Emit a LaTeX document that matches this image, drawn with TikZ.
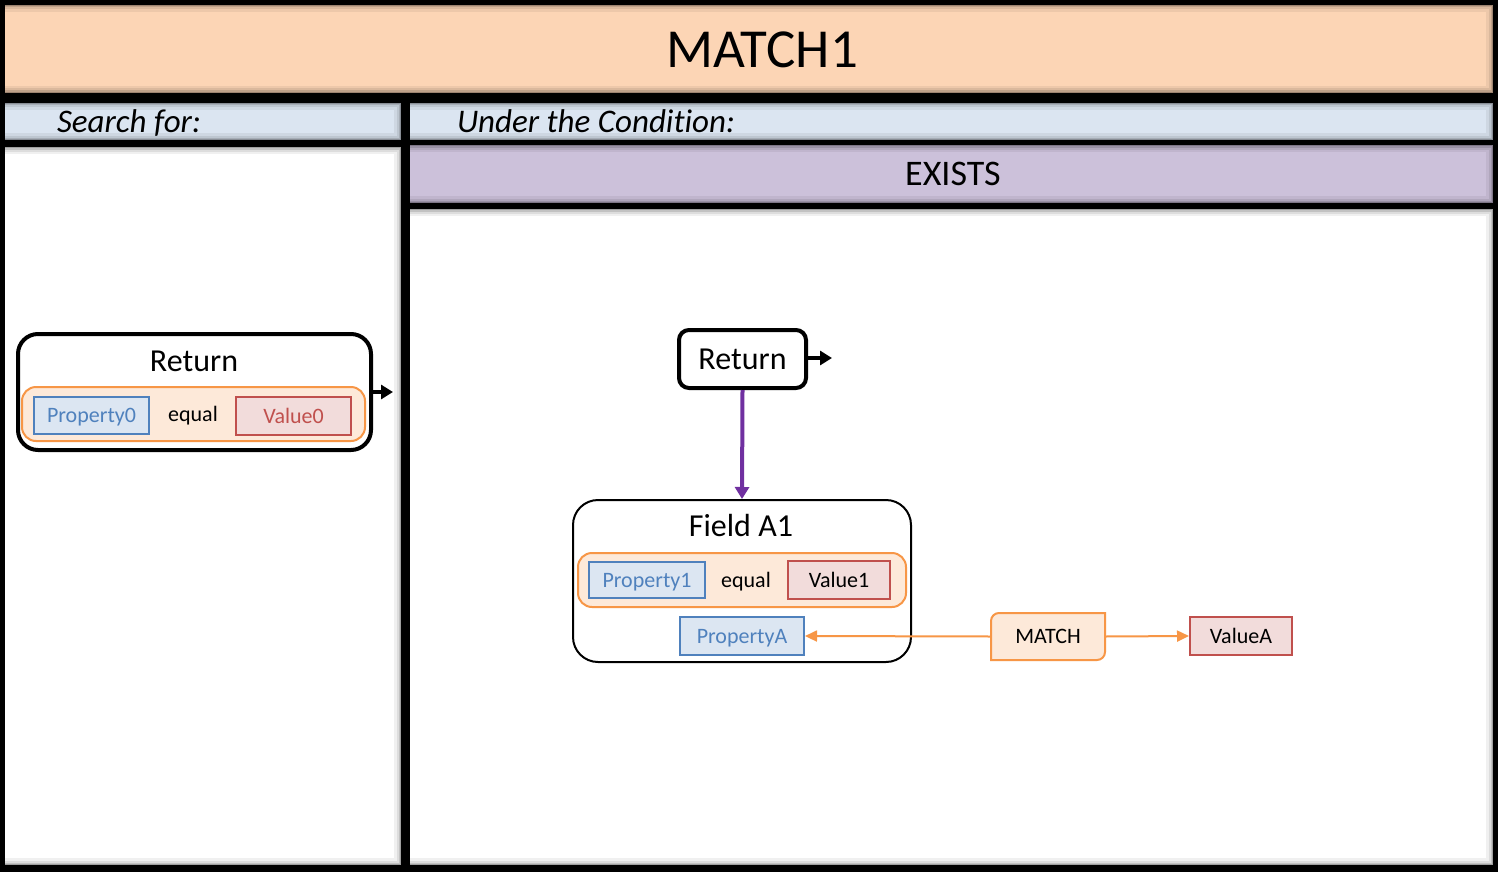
\documentclass[tikz,border=0pt]{standalone}
\usepackage{fontspec}
\setmainfont{Carlito}[Ligatures={NoCommon,NoRequired,NoContextual}]
\usetikzlibrary{arrows.meta}
\definecolor{titleor}{HTML}{FCD5B5}
\definecolor{barblue}{HTML}{DBE5F1}
\definecolor{expurple}{HTML}{CCC1DA}
\definecolor{lor}{HTML}{FDE9D9}
\definecolor{orline}{HTML}{F79646}
\definecolor{pblue}{HTML}{DCE6F2}
\definecolor{bline}{HTML}{4F81BD}
\definecolor{vred}{HTML}{F2DCDB}
\definecolor{rline}{HTML}{C0504D}
\definecolor{purp}{HTML}{7030A0}
\newcommand{\pshadow}[4]{%
  \begin{scope}
    \clip (#1,#2) rectangle (#3,#4);
    \foreach \w/\o in {14/0.06,9/0.08,5/0.12,2/0.18}{%
      \draw[line width=\w pt, black, opacity=\o] (#1-8,#2) rectangle (#3,#4);}
  \end{scope}}
\tikzset{
  capc/.style={text height=#1, text depth=0pt},
  panelbox/.style={inner sep=0, outer sep=0},
  bigreturn/.style={draw=black, line width=4pt, rounded corners=20pt, fill=white, inner sep=0},
  smallreturn/.style={draw=black, line width=4pt, rounded corners=10pt, fill=white, inner sep=0, capc=20.6pt, font=\fontsize{32}{36}\selectfont},
  fieldbox/.style={draw=black, line width=2pt, rounded corners=25pt, fill=white, inner sep=0},
  condbox/.style={draw=orline, line width=2pt, fill=lor, rounded corners=14pt, inner sep=0},
  propbox/.style={draw=bline, line width=2pt, fill=pblue, text=bline, inner sep=0, capc=14.2pt, font=\fontsize{22}{26}\selectfont},
  valbox/.style={draw=rline, line width=2pt, fill=vred, inner sep=0, capc=14.2pt, font=\fontsize{22}{26}\selectfont},
  smalltext/.style={inner sep=0, capc=14.2pt, font=\fontsize{22}{26}\selectfont},
  headtext/.style={inner sep=0, capc=20.6pt, font=\fontsize{32}{36}\selectfont},
  bararrow/.style={draw=black, line width=4pt, -{Triangle[length=12pt,width=14pt]}},
  orarrow/.style={draw=orline, line width=2pt, -{Triangle[length=12pt,width=11pt]}},
  purarrow/.style={draw=purp, line width=4pt, -{Triangle[length=12pt,width=14pt]}},
}
\begin{document}
\begin{tikzpicture}[x=1pt,y=-1pt]
\fill[black] (0,0) rectangle (1498,872);
\useasboundingbox (0,0) rectangle (1498,872);
% panels
\fill[titleor] (5,5) rectangle (1493,93);
\fill[barblue] (5,103) rectangle (401,140);
\fill[white] (5,147) rectangle (401,865);
\fill[barblue] (410,103) rectangle (1493,140);
\fill[expurple] (410,145) rectangle (1493,203);
\fill[white] (410,209) rectangle (1493,865);
\pshadow{5}{5}{1493}{93}
\pshadow{5}{103}{401}{140}
\pshadow{5}{147}{401}{865}
\pshadow{410}{103}{1493}{140}
\pshadow{410}{145}{1493}{203}
\pshadow{410}{209}{1493}{865}
\node[panelbox, capc=35.4pt, font=\fontsize{55}{60}\selectfont] (title) at (762,49.5) {MATCH1};
\node[panelbox, anchor=base west, font=\fontsize{33}{36}\selectfont\itshape] (searchfor) at (57,132) {Search for:};
\node[panelbox, anchor=base west, font=\fontsize{33}{36}\selectfont\itshape] (undercond) at (457,132) {Under the Condition:};
\node[panelbox, capc=23.2pt, font=\fontsize{36}{40}\selectfont] (exists) at (953,174) {EXISTS};
% left return
\node[bigreturn, minimum width=353pt, minimum height=116pt] (ret0) at (194.5,392) {};
\node[headtext] (ret0t) at (194,361) {Return};
\node[condbox, minimum width=343pt, minimum height=54pt] (cond0) at (193.5,414) {};
\node[propbox, minimum width=115pt, minimum height=37pt] (prop0) at (91.5,415.5) {Property0};
\node[smalltext] (eq0) at (193,414) {equal};
\node[valbox, text=rline, minimum width=115pt, minimum height=38pt] (val0) at (293.5,416) {Value0};
\coordinate (ret0out) at (393,392);
\draw[bararrow] (ret0.east) -- (ret0out);
% right return
\node[smallreturn, minimum width=127pt, minimum height=58pt] (ret1) at (742.5,359) {Return};
\coordinate (ret1out) at (832,358);
\draw[bararrow] (ret1.east |- ret1out) -- (ret1out);
% field A1
\node[fieldbox, minimum width=338pt, minimum height=162pt] (field) at (742,581) {};
\node[headtext] (fieldt) at (741,526) {Field A1};
\node[condbox, minimum width=328pt, minimum height=54pt] (cond1) at (742,580) {};
\node[propbox, minimum width=116pt, minimum height=36pt] (prop1) at (647,580) {Property1};
\node[smalltext] (eq1) at (746,580) {equal};
\node[valbox, minimum width=102pt, minimum height=38pt] (val1) at (839,580) {Value1};
\node[propbox, minimum width=124pt, minimum height=38pt] (propA) at (742,636) {PropertyA};
\draw[purarrow] (ret1.south) -- (field.north);
% match
\draw[orline, fill=lor, line width=2pt] (991,660) -- (991,621) arc[start angle=180, end angle=90, radius=8pt] -- (1105,613) -- (1105,652) arc[start angle=0, end angle=-90, radius=8pt] -- cycle;
\node[smalltext, minimum width=114pt, minimum height=47pt] (match) at (1048,636.5) {MATCH};
\node[valbox, minimum width=102pt, minimum height=38pt] (valA) at (1241,636) {ValueA};
\draw[orarrow] (match.west) -- (propA.east);
\draw[orarrow] (match.east) -- (valA.west);
\end{tikzpicture}
\end{document}
